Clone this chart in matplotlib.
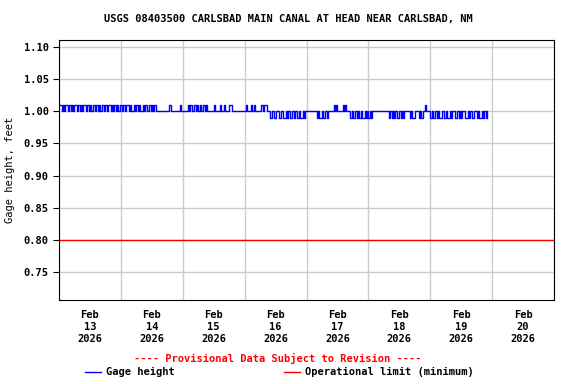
import numpy as np
import pandas as pd
import matplotlib
matplotlib.use('Agg')
import matplotlib.pyplot as plt
import matplotlib.dates as mdates

# gage height, one character per 30 minutes
# a = 0.99 ft, b = 1.00 ft, c = 1.01 ft
levels = {'a': 0.99, 'b': 1.00, 'c': 1.01}
day_codes = [
    'ccbcbccbcbcbccbcbcbccbcbcbccbcbcbccbcbccbcbcbcbc',  # Feb 13
    'cbcbccbcbbcbcbcbbcbcbbcbcbcbbbbbbbbbbccbbbbbbbcb',  # Feb 14
    'bbbbcbcbbcbcbcbbcbcbbbbbcbbbbcbbcbbbccbbbbbbbbbb',  # Feb 15
    'bcbbbcbcbbbbbcbccbbbabbabbbabbaababaababbabaabab',  # Feb 16
    'bbbbbbbbabaababbabbbbcbcbbbbcbcbbbabaabababaabab',  # Feb 17
    'ababbbbbbbbbbbbbabababaabababbbbabaabbbababbcbb',   # Feb 18
    'babaababaabbabaababbaabababbaababaabbabaababab',    # Feb 19
]
start = pd.Timestamp('2026-02-13 00:00')
limit_value = 0.80

codes = ''.join(day_codes)
times = start + pd.to_timedelta(np.arange(len(codes)) * 30, unit='min')
gage = np.array([levels[c] for c in codes])

plt.rcParams['font.family'] = 'DejaVu Sans Mono'
plt.rcParams['font.weight'] = 'bold'
plt.rcParams['font.size'] = 7.5

fig = plt.figure(figsize=(5.76, 3.84), dpi=100)
ax = fig.add_axes([59 / 576, 1 - 300 / 384, 495 / 576, 260 / 384])

ax.axhline(limit_value, color='red', lw=1)
ax.plot(times, gage, color='blue', lw=1, drawstyle='steps-post')

ax.set_xlim(start, start + pd.Timedelta(days=8))
ax.set_ylim(0.7065, 1.111)
ax.set_yticks(np.arange(0.75, 1.101, 0.05))
ax.yaxis.set_major_formatter(plt.FormatStrFormatter('%.2f'))

ax.xaxis.set_major_locator(mdates.DayLocator())
ax.xaxis.set_major_formatter(plt.NullFormatter())
ax.xaxis.set_minor_locator(mdates.HourLocator(byhour=[12]))
ax.xaxis.set_minor_formatter(mdates.DateFormatter('%b\n%d\n%Y'))
ax.tick_params(axis='x', which='both', length=0, pad=7)
ax.tick_params(axis='y', length=4)
for lbl in ax.get_xticklabels(minor=True):
    lbl.set_linespacing(1.25)

ax.grid(True, which='major', color='#cccccc', lw=1)
ax.set_axisbelow(True)
ax.set_ylabel('Gage height, feet', labelpad=6)

fig.text(0.5, 1 - 19 / 384, 'USGS 08403500 CARLSBAD MAIN CANAL AT HEAD NEAR CARLSBAD, NM',
         ha='center', va='center')
fig.text(278 / 576, 1 - 358 / 384, '---- Provisional Data Subject to Revision ----',
         ha='center', va='center', color='red')

# legend drawn as figure lines and text
fig.add_artist(plt.Line2D([85 / 576, 101 / 576], [1 - 372 / 384] * 2, color='blue', lw=1))
fig.text(106 / 576, 1 - 372 / 384, 'Gage height', va='center')
fig.add_artist(plt.Line2D([284 / 576, 300 / 576], [1 - 372 / 384] * 2, color='red', lw=1))
fig.text(305 / 576, 1 - 372 / 384, 'Operational limit (minimum)', va='center')

plt.savefig('out.png', dpi=100)
